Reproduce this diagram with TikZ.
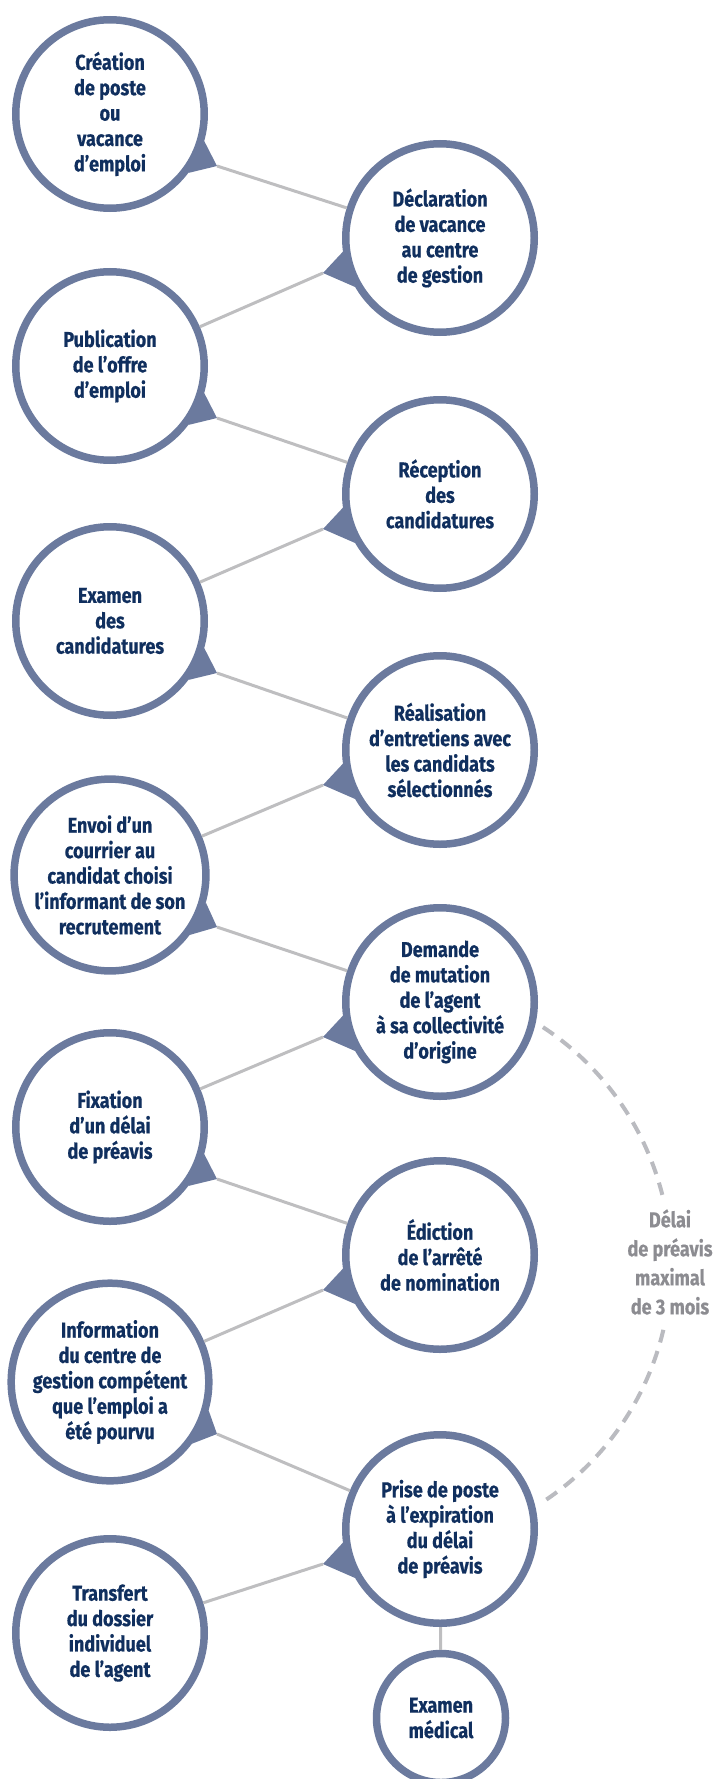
\documentclass[tikz,border=0pt]{standalone}
\usepackage{fontspec}
\setmainfont{Fira Sans}[FakeStretch=0.84,BoldFeatures={FakeBold=0.5}]
\usetikzlibrary{calc}
\definecolor{ringc}{RGB}{107,122,158}
\definecolor{inkc}{RGB}{16,47,94}
\definecolor{linkc}{RGB}{190,190,192}
\definecolor{arcc}{RGB}{186,187,192}
\definecolor{notec}{RGB}{140,140,145}
\begin{document}
\begin{tikzpicture}[x=1pt,y=-1pt,
  stepbox/.style={circle,draw=ringc,line width=7.5pt,fill=white,
    minimum size=188.5pt,inner sep=0pt,align=center,text=inkc,
    font=\fontsize{21.5}{25.4}\selectfont\bfseries},
  smallbox/.style={stepbox,minimum size=129pt},
  link/.style={draw=linkc,line width=3pt},
  tab/.style={fill=ringc},
  waitarc/.style={draw=arcc,line width=4pt,dash pattern=on 13pt off 9pt},
  note/.style={align=center,text=notec,inner sep=0pt,
    font=\fontsize{21.5}{29}\selectfont\bfseries}]
\useasboundingbox (0,0) rectangle (718,1779);

% steps, zig-zagging between two columns
\node[stepbox] (c1)  at (110,114)  {Création\\de poste\\ou\\vacance\\d’emploi};
\node[stepbox] (c2)  at (440,238)  {Déclaration\\de vacance\\au centre\\de gestion};
\node[stepbox] (c3)  at (110,366)  {Publication\\de l’offre\\d’emploi};
\node[stepbox] (c4)  at (440,494)  {Réception\\des\\candidatures};
\node[stepbox] (c5)  at (110,621)  {Examen\\des\\candidatures};
\node[stepbox] (c6)  at (440,750)  {Réalisation\\d’entretiens avec\\les candidats\\sélectionnés};
\node[stepbox] (c7)  at (110,875)  {Envoi d’un\\courrier au\\candidat choisi\\l’informant de son\\recrutement};
\node[stepbox] (c8)  at (440,1002) {Demande\\de mutation\\de l’agent\\à sa collectivité\\d’origine};
\node[stepbox] (c9)  at (110,1127) {Fixation\\d’un délai\\de préavis};
\node[stepbox] (c10) at (440,1255) {Édiction\\de l’arrêté\\de nomination};
\node[stepbox] (c11) at (110,1382) {Information\\du centre de\\gestion compétent\\que l’emploi a\\été pourvu};
\node[stepbox] (c12) at (440,1529) {Prise de poste\\à l’expiration\\du délai\\de préavis};
\node[stepbox] (c13) at (110,1633) {Transfert\\du dossier\\individuel\\de l’agent};
\node[smallbox] (c14) at (441,1718) {Examen\\médical};

% pointer tips: left column points down-right, right column down-left
\foreach \i in {1,3,5,7,9,11} {
  \coordinate (t\i) at ($(c\i)+(107,52)$);
  \fill[tab] (c\i.-16) -- (t\i) -- (c\i.-37) -- cycle;
}
\foreach \i in {2,4,6,8,10,12} {
  \coordinate (t\i) at ($(c\i)+(-117,35)$);
  \fill[tab] (c\i.188) -- (t\i) -- (c\i.210) -- cycle;
}

% connectors from each pointer to the next step
\foreach \i/\j in {1/2,2/3,3/4,4/5,5/6,6/7,7/8,8/9,9/10,10/11,11/12,12/13} {
  \draw[link] (t\i) -- (c\j);
}
\draw[link] (c12) -- (c14);

% notice period arc between the request and the start of the post
\draw[waitarc] plot[domain=-56.7:-14.2,samples=50] ({387+284*cos(\x)},{1264.5+284*sin(\x)});
\draw[waitarc] plot[domain=13.3:57.2,samples=50] ({387+284*cos(\x)},{1264.5+284*sin(\x)});
\node[note] (lbl) at (670,1262) {Délai\\de préavis\\maximal\\de 3 mois};
\end{tikzpicture}
\end{document}
